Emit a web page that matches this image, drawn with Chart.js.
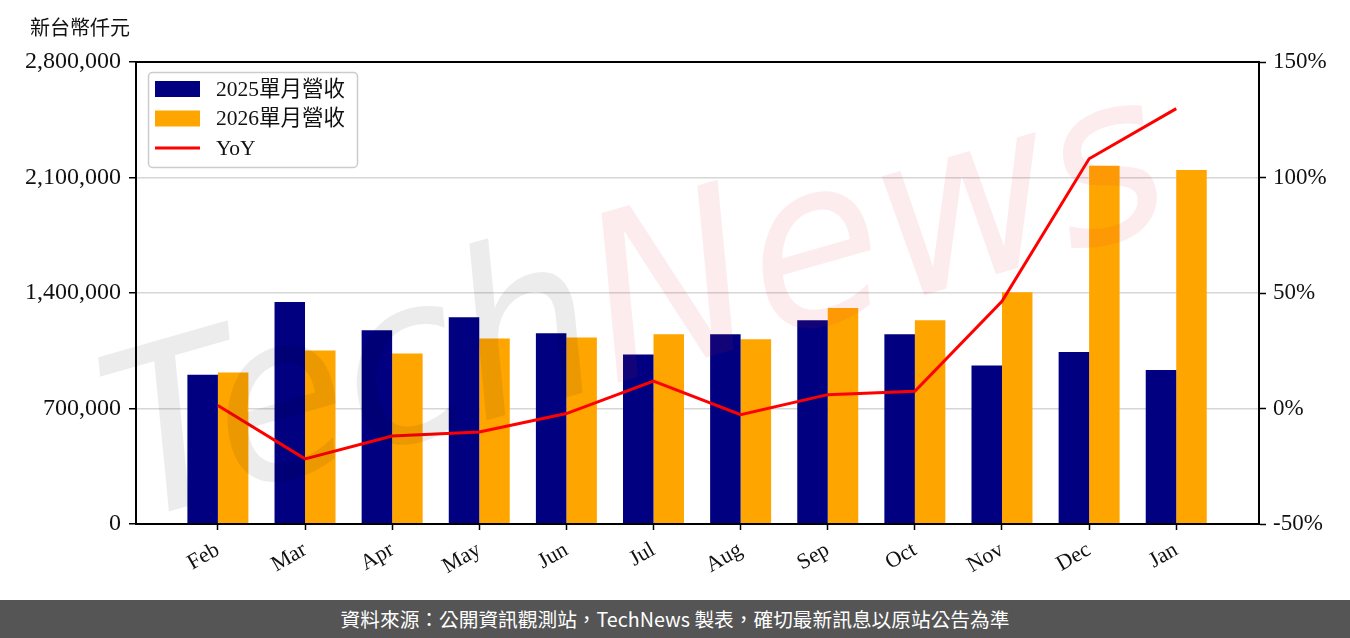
<!DOCTYPE html>
<html>
<head>
<meta charset="utf-8">
<script src="https://cdn.jsdelivr.net/npm/chart.js@4.4.1/dist/chart.umd.min.js"></script>
<style>
html, body { margin: 0; padding: 0; background: #fff; }
#wrap { width: 1350px; height: 600px; }
#footer {
    width: 1350px; height: 38px; background: #555555; color: #fff;
    font: 19.7px "Noto Sans CJK TC", sans-serif; text-align: center; line-height: 38px;
}
</style>
</head>
<body>
<div id="wrap"><canvas id="myChart" width="1350" height="600"></canvas></div>
<div id="footer">資料來源：公開資訊觀測站，TechNews 製表，確切最新訊息以原站公告為準</div>
<script>
// values
const months = ['Feb', 'Mar', 'Apr', 'May', 'Jun', 'Jul', 'Aug', 'Sep', 'Oct', 'Nov', 'Dec', 'Jan'];
const rev2025 = [905000, 1345000, 1174000, 1253000, 1156000, 1028000, 1150000, 1235000, 1150000, 960000, 1043000, 934000];
const rev2026 = [918000, 1052000, 1034000, 1125000, 1131000, 1150000, 1119000, 1309000, 1235000, 1405000, 2171000, 2146000];
const yoy = [1.3, -21.8, -11.9, -10.2, -2.2, 11.9, -2.7, 6.0, 7.5, 46.4, 108.1, 129.8];
const leftTicks = [0, 700000, 1400000, 2100000, 2800000];
const rightTicks = [-50, 0, 50, 100, 150];

const serif = '"Liberation Serif", "Noto Sans CJK TC", serif';
const toPoints = arr => arr.map((v, i) => ({ x: i, y: v }));

const decor = {
    id: 'decor',
    afterDraw(chart) {
        const ctx = chart.ctx;
        const a = chart.chartArea;
        ctx.save();
        // frame
        ctx.strokeStyle = '#000';
        ctx.lineWidth = 2;
        ctx.strokeRect(a.left, a.top, a.right - a.left, a.bottom - a.top);

        // unit label
        ctx.fillStyle = '#111';
        ctx.font = '20px "Noto Sans CJK TC", sans-serif';
        ctx.textBaseline = 'middle';
        ctx.textAlign = 'left';
        ctx.fillText('新台幣仟元', 30, 27);

        // legend inside plot
        ctx.fillStyle = '#fff';
        ctx.strokeStyle = '#cccccc';
        ctx.lineWidth = 1.5;
        ctx.beginPath();
        ctx.roundRect(148.5, 72.5, 209, 95, 4);
        ctx.fill();
        ctx.stroke();
        const ds = chart.data.datasets;
        const rows = [ds[1], ds[2], ds[0]];
        rows.forEach((d, i) => {
            const cy = 89 + i * 29.5;
            if (d.type === 'line') {
                ctx.strokeStyle = d.borderColor;
                ctx.lineWidth = 3;
                ctx.beginPath();
                ctx.moveTo(155, cy);
                ctx.lineTo(200, cy);
                ctx.stroke();
            } else {
                ctx.fillStyle = d.backgroundColor;
                ctx.fillRect(155, cy - 8, 45, 16);
            }
            ctx.fillStyle = '#111';
            ctx.font = '21.5px ' + serif;
            ctx.fillText(d.label, 216, cy + 1);
        });

        // watermark
        ctx.translate(132, 522);
        ctx.rotate(-16 * Math.PI / 180);
        ctx.scale(0.95, 1);
        ctx.font = 'italic 230px "DejaVu Sans"';
        ctx.textBaseline = 'alphabetic';
        ctx.fillStyle = 'rgba(0,0,0,0.075)';
        ctx.fillText('Tech', 0, 0);
        const w = ctx.measureText('Tech').width;
        ctx.fillStyle = 'rgba(220,30,50,0.085)';
        ctx.fillText('News', w, 0);
        ctx.restore();
    }
};

new Chart(document.getElementById('myChart'), {
    type: 'bar',
    data: {
        datasets: [{
            type: 'line',
            label: 'YoY',
            data: toPoints(yoy),
            yAxisID: 'y1',
            borderColor: '#ff0000',
            borderWidth: 3,
            pointRadius: 0,
            order: 0
        }, {
            label: '2025單月營收',
            data: toPoints(rev2025),
            backgroundColor: '#000080',
            yAxisID: 'y',
            order: 1
        }, {
            label: '2026單月營收',
            data: toPoints(rev2026),
            backgroundColor: '#ffa500',
            yAxisID: 'y',
            order: 1
        }]
    },
    options: {
        responsive: false,
        animation: false,
        layout: { padding: { top: 62, left: 0, right: 0, bottom: 0 } },
        datasets: {
            bar: { categoryPercentage: 0.7, barPercentage: 1.0 }
        },
        plugins: {
            legend: { display: false },
            tooltip: { enabled: false }
        },
        scales: {
            x: {
                type: 'linear',
                offset: false,
                min: -0.94,
                max: 11.95,
                afterBuildTicks: s => { s.ticks = months.map((m, i) => ({ value: i })); },
                afterFit: s => { s.height = 76; },
                grid: { offset: false, drawOnChartArea: false, tickLength: 6, tickWidth: 1.5, tickColor: '#000' },
                border: { color: '#000', width: 2 },
                ticks: {
                    autoSkip: false,
                    maxRotation: 30,
                    minRotation: 30,
                    padding: 7,
                    color: '#111',
                    font: { family: serif, size: 22 },
                    callback: v => months[v]
                }
            },
            y: {
                position: 'left',
                min: 0,
                max: 2800000,
                afterBuildTicks: s => { s.ticks = leftTicks.map(v => ({ value: v })); },
                afterFit: s => { s.width = 136; },
                grid: { color: '#d6d6d6', lineWidth: 1.5, tickLength: 7, tickWidth: 1.5, tickColor: '#000' },
                border: { color: '#000', width: 2 },
                ticks: {
                    padding: 8,
                    color: '#111',
                    font: { family: serif, size: 24 },
                    callback: v => v.toLocaleString('en-US')
                }
            },
            y1: {
                position: 'right',
                min: -50,
                max: 150,
                afterBuildTicks: s => { s.ticks = rightTicks.map(v => ({ value: v })); },
                afterFit: s => { s.width = 91; },
                grid: { drawOnChartArea: false, tickLength: 7, tickWidth: 1.5, tickColor: '#000' },
                border: { color: '#000', width: 2 },
                ticks: {
                    padding: 7,
                    color: '#111',
                    font: { family: serif, size: 23 },
                    callback: v => v + '%'
                }
            }
        }
    },
    plugins: [decor]
});
</script>
</body>
</html>
